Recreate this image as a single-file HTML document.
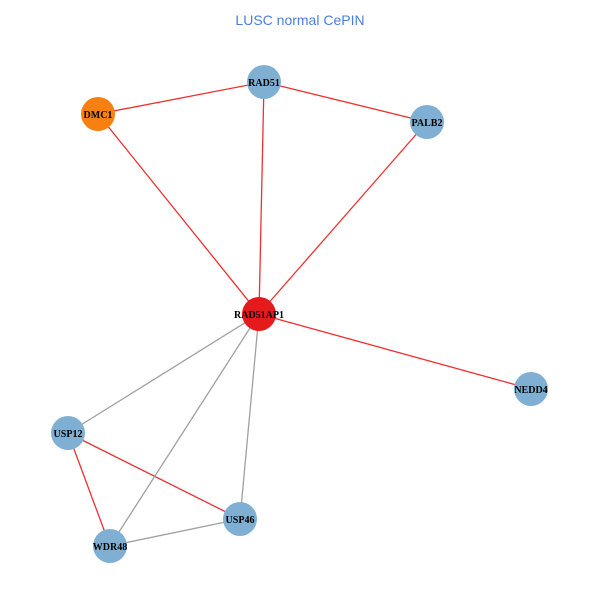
<!DOCTYPE html>
<html><head><meta charset="utf-8"><style>html,body{margin:0;padding:0;background:#fff;}svg{display:block}</style></head>
<body>
<svg width="600" height="600" viewBox="0 0 600 600" xmlns="http://www.w3.org/2000/svg">
<rect width="600" height="600" fill="#fff"/>
<text x="300" y="25" text-anchor="middle" font-family="Liberation Sans, sans-serif" font-size="14" fill="#4a7fe0">LUSC normal CePIN</text>
<g stroke-width="1.3">
<line x1="98" y1="114" x2="264" y2="82" stroke="#f03030"/>
<line x1="264" y1="82" x2="427" y2="122" stroke="#f03030"/>
<line x1="264" y1="82" x2="259" y2="314" stroke="#f03030"/>
<line x1="98" y1="114" x2="259" y2="314" stroke="#f03030"/>
<line x1="427" y1="122" x2="259" y2="314" stroke="#f03030"/>
<line x1="259" y1="314" x2="531" y2="389" stroke="#f03030"/>
<line x1="68" y1="433" x2="110" y2="546" stroke="#f03030"/>
<line x1="68" y1="433" x2="240" y2="519" stroke="#f03030"/>
<line x1="259" y1="314" x2="68" y2="433" stroke="#a0a0a0"/>
<line x1="259" y1="314" x2="110" y2="546" stroke="#a0a0a0"/>
<line x1="259" y1="314" x2="240" y2="519" stroke="#a0a0a0"/>
<line x1="110" y1="546" x2="240" y2="519" stroke="#a0a0a0"/>
</g>
<g fill="#7fb0d3">
<circle cx="264" cy="82" r="17"/>
<circle cx="427" cy="122" r="17"/>
<circle cx="531" cy="389" r="17"/>
<circle cx="68" cy="433" r="17"/>
<circle cx="240" cy="519" r="17"/>
<circle cx="110" cy="546" r="17"/>
</g>
<circle cx="98" cy="114" r="17" fill="#f78010"/>
<circle cx="259" cy="314" r="17" fill="#e41a1c"/>
<g font-family="Liberation Serif, serif" font-weight="bold" font-size="10" text-anchor="middle" fill="#000">
<text x="264" y="86">RAD51</text>
<text x="98" y="118">DMC1</text>
<text x="427" y="126">PALB2</text>
<text x="259" y="318">RAD51AP1</text>
<text x="531" y="393">NEDD4</text>
<text x="68" y="437">USP12</text>
<text x="240" y="523">USP46</text>
<text x="110" y="550">WDR48</text>
</g>
</svg>
</body></html>
